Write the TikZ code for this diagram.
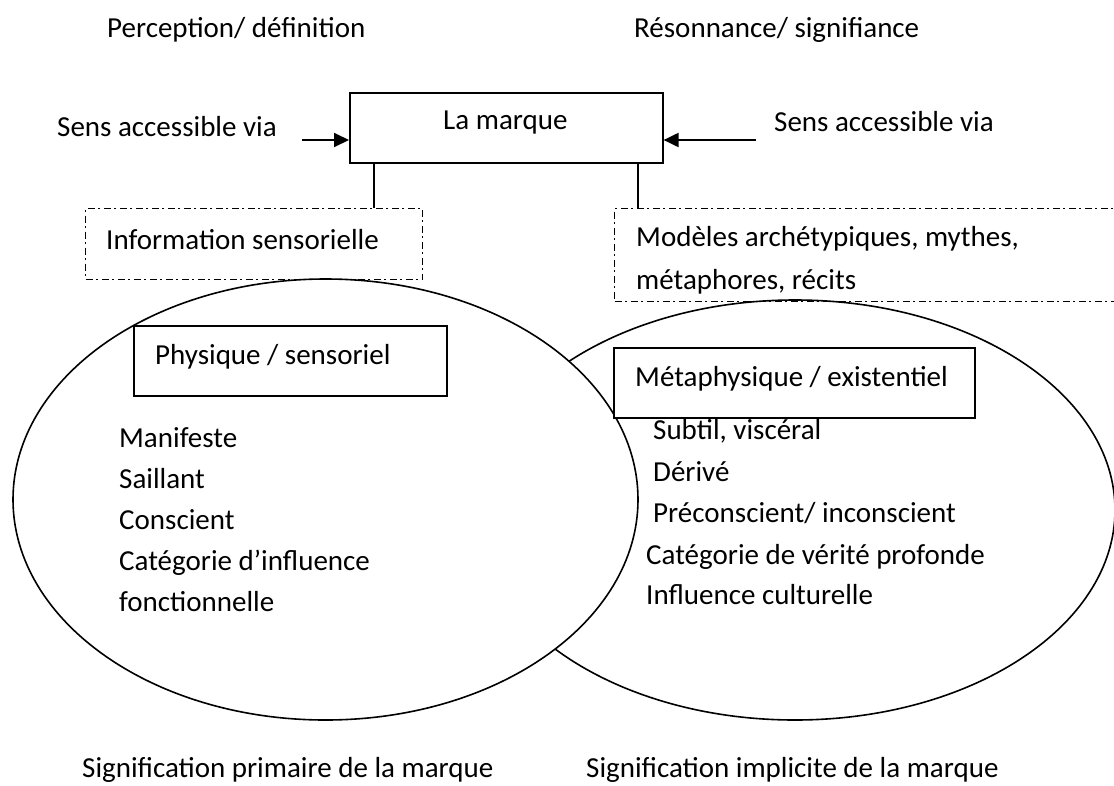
\documentclass[tikz,border=0pt]{standalone}
\usepackage{fontspec}
\setmainfont{Carlito}
\usetikzlibrary{shapes.geometric,arrows.meta}
\tikzset{
  txt/.style={anchor=base west, inner sep=0pt, font=\fontsize{29}{35}\selectfont},
  solidbox/.style={draw, line width=1.6pt, rectangle, inner sep=0pt, anchor=north west},
  dashbox/.style={draw, line width=1.3pt, rectangle, inner sep=0pt, anchor=north west,
                  dash pattern=on 7pt off 3.5pt on 2pt off 3.5pt},
  oval/.style={draw, line width=1.6pt, ellipse, inner sep=0pt},
  link/.style={line width=1.6pt},
  arr/.style={line width=2pt, -{Triangle[length=15pt,width=14pt]}},
}
\begin{document}
\begin{tikzpicture}[x=1pt,y=-1pt]
\useasboundingbox (0,0) rectangle (1114,785);

% the two meaning spheres (left one on top, hiding part of the right)
\node[oval, minimum width=640pt, minimum height=420pt] (implicite) at (795,510) {};
\node[oval, fill=white, minimum width=625pt, minimum height=441pt] (primaire) at (325.5,499.5) {};

% column headings
\node[txt] (perc) at (107,37) {Perception/ définition};
\node[txt] (reso) at (634,37) {Résonnance/ signifiance};

% the brand
\node[solidbox, minimum width=313pt, minimum height=70pt] (marque) at (349,92) {};
\node[txt] (marquetxt) at (443,129) {La marque};

% access paths
\node[txt] (sensL) at (57,136) {Sens accessible via};
\node[txt] (sensR) at (774,131) {Sens accessible via};
\coordinate (arrL) at (302,140);
\coordinate (arrR) at (756,140);
\draw[arr] (arrL) -- (arrL -| marque.west);
\draw[arr] (arrR) -- (arrR -| marque.east);

% sources of meaning
\node[dashbox, minimum width=337pt, minimum height=71pt] (info) at (85,208) {};
\node[txt] (infotxt) at (106,249) {Information sensorielle};
\node[dashbox, minimum width=520pt, minimum height=93pt] (modeles) at (614,208) {};
\node[txt] (modtxtA) at (636,246) {Modèles archétypiques, mythes,};
\node[txt] (modtxtB) at (636,289) {métaphores, récits};

\coordinate (linkL) at (374,0);
\coordinate (linkR) at (638,0);
\draw[link] (linkL |- marque.south) -- (linkL |- info.north);
\draw[link] (linkR |- marque.south) -- (linkR |- modeles.north);

% left sphere contents
\node[solidbox, minimum width=313pt, minimum height=70pt] (phys) at (133,325) {};
\node[txt] (phystxt) at (155,364) {Physique / sensoriel};
\node[txt] (l1) at (119,447) {Manifeste};
\node[txt] (l2) at (119,488) {Saillant};
\node[txt] (l3) at (119,529) {Conscient};
\node[txt] (l4) at (119,570) {Catégorie d’influence};
\node[txt] (l5) at (119,611) {fonctionnelle};

% right sphere contents
\node[solidbox, fill=white, minimum width=361pt, minimum height=70pt] (meta) at (613,347) {};
\node[txt] (metatxt) at (635,386) {Métaphysique / existentiel};
\node[txt] (r1) at (653,439) {Subtil, viscéral};
\node[txt] (r2) at (653,481) {Dérivé};
\node[txt] (r3) at (653,522) {Préconscient/ inconscient};
\node[txt] (r4) at (646,564) {Catégorie de vérité profonde};
\node[txt] (r5) at (646,604) {Influence culturelle};

% captions
\node[txt] (capL) at (82,777) {Signification primaire de la marque};
\node[txt] (capR) at (586,777) {Signification implicite de la marque};
\end{tikzpicture}
\end{document}
